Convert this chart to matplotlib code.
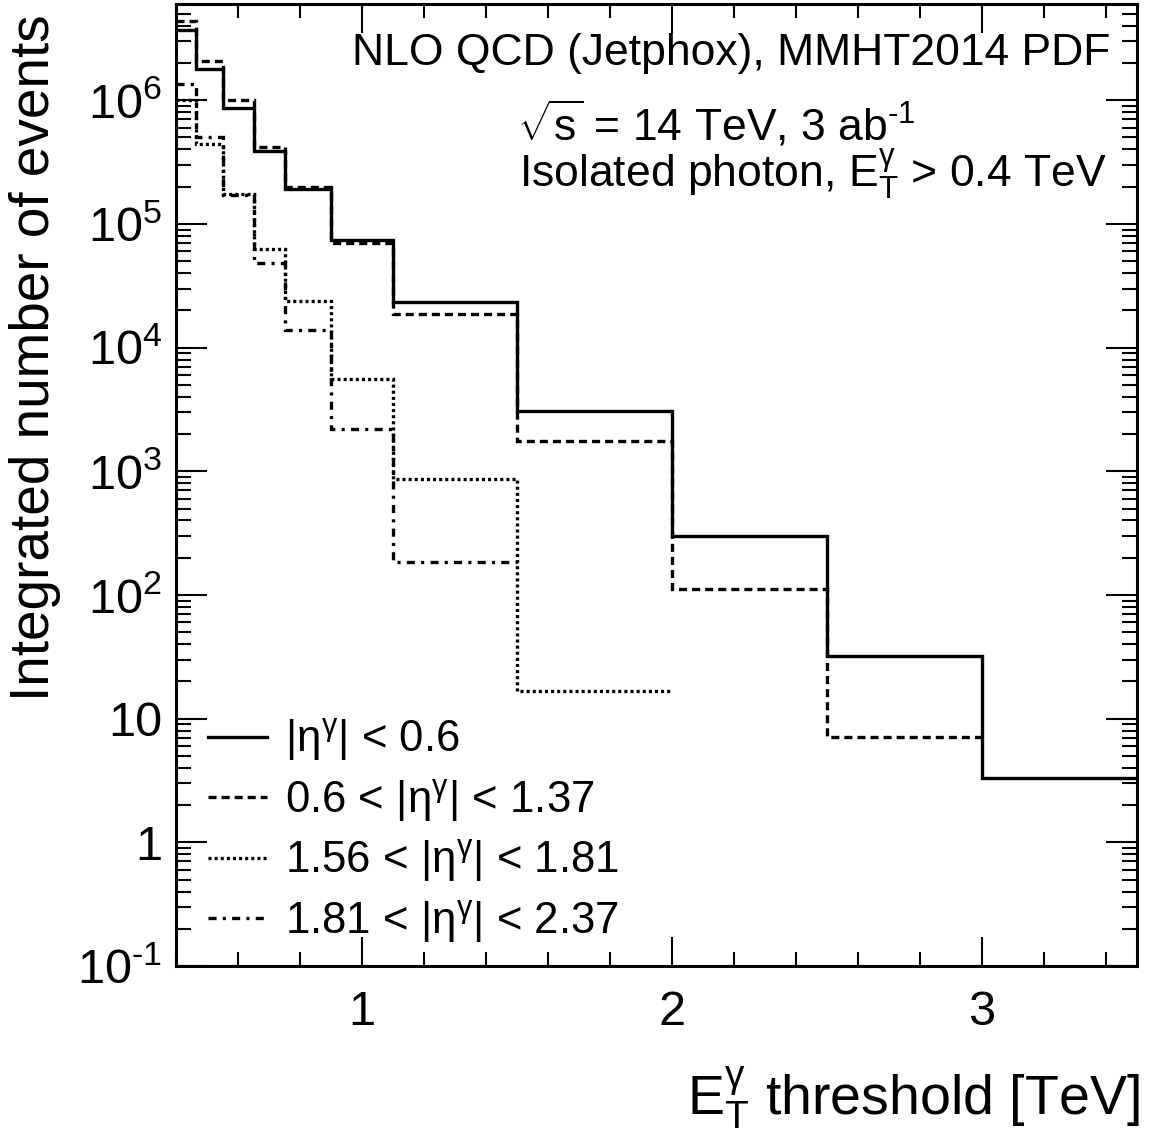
import matplotlib
matplotlib.use("Agg")
import matplotlib.pyplot as plt
import matplotlib.ticker as ticker
import numpy as np

plt.rcParams['font.family'] = ['Liberation Sans', 'DejaVu Sans']
plt.rcParams['mathtext.fontset'] = 'custom'
plt.rcParams['mathtext.rm'] = 'Liberation Sans'
plt.rcParams['mathtext.it'] = 'Liberation Sans:italic'
plt.rcParams['mathtext.bf'] = 'Liberation Sans:bold'
plt.rcParams['lines.scale_dashes'] = False

# E_T threshold bin edges [TeV]
edges = [0.4, 0.465, 0.55, 0.65, 0.75, 0.9, 1.1, 1.5, 2.0, 2.5, 3.0, 3.5]

# Integrated number of events for each eta region (3 ab^-1)
central = [3.7e6, 1.78e6, 8.7e5, 3.9e5, 1.93e5, 7.4e4, 2.35e4, 3.08e3, 302, 32.2, 3.34]
barrel = [4.4e6, 2.09e6, 1.0e6, 4.2e5, 2.0e5, 6.98e4, 1.86e4, 1.77e3, 111, 7.13]
crack = [1.0e6, 4.4e5, 1.75e5, 6.3e4, 2.36e4, 5.59e3, 863, 16.6]
forward = [1.35e6, 5.0e5, 1.7e5, 4.87e4, 1.39e4, 2.19e3, 186]

labels = [r'$|$η$^{\mathrm{γ}}|$ < 0.6',
          r'0.6 < $|$η$^{\mathrm{γ}}|$ < 1.37',
          r'1.56 < $|$η$^{\mathrm{γ}}|$ < 1.81',
          r'1.81 < $|$η$^{\mathrm{γ}}|$ < 2.37']
styles = ['-', (0, (5.8, 3.6)), (0, (2.2, 2.2)), (0, (5.8, 4.5, 2.2, 4.5))]

fig = plt.figure(figsize=(11.53, 11.42), dpi=100)
ax = fig.add_axes([176 / 1153, 1 - 966 / 1142, 961 / 1153, 962 / 1142])

for vals, ls, lab in zip([central, barrel, crack, forward], styles, labels):
    st = ax.stairs(vals, edges[:len(vals) + 1], baseline=None, color='black',
                   linewidth=2.4, linestyle=ls, label=lab)
    st.set_joinstyle('miter')
    st.set_capstyle('butt')

ax.set_yscale('log')
ax.set_xlim(0.4, 3.5)
ax.set_ylim(0.1, 6e6)

# ROOT-like ticks: inward, on all four sides
ax.xaxis.set_major_locator(ticker.FixedLocator([1, 2, 3]))
ax.xaxis.set_minor_locator(ticker.MultipleLocator(0.2))
ax.xaxis.set_major_formatter(ticker.FormatStrFormatter('%d'))
ax.yaxis.set_major_locator(ticker.LogLocator(base=10, numticks=20))
ax.yaxis.set_minor_locator(ticker.LogLocator(base=10, subs=np.arange(2, 10), numticks=20))
ax.yaxis.set_minor_formatter(ticker.NullFormatter())


def pow_label(v, pos):
    e = int(round(np.log10(v)))
    if e == 0:
        return '1'
    if e == 1:
        return '10'
    return r'10$^{\text{%d}}$' % e


ax.yaxis.set_major_formatter(ticker.FuncFormatter(pow_label))
ax.tick_params(which='both', direction='in', top=True, right=True, width=1.5)
ax.tick_params(axis='y', which='major', length=22, labelsize=35, pad=10)
ax.tick_params(axis='y', which='minor', length=11)
ax.tick_params(axis='x', which='major', length=21, labelsize=35, pad=17)
ax.tick_params(axis='x', which='minor', length=10)
for sp in ax.spines.values():
    sp.set_linewidth(2.2)

# Labels
fig.text(1140 / 1153, 1 - 1115 / 1142,
         r'$\mathrm{E}_{\mathrm{T}}^{\mathrm{γ}}$ threshold [TeV]',
         ha='right', va='baseline', fontsize=40)
fig.text(35 / 1153, 1 - 14 / 1142, 'Integrated number of events',
         rotation=90, ha='center', va='top', fontsize=39.5)

ax.text(0.972, 0.9366, 'NLO QCD (Jetphox), MMHT2014 PDF',
        transform=ax.transAxes, ha='right', va='baseline', fontsize=32)
ax.text(0.562, 0.8586, r'$\sqrt{\mathrm{s}}$ = 14 TeV, 3 ab$^{\text{-1}}$',
        transform=ax.transAxes, ha='center', va='baseline', fontsize=32)
ax.text(0.968, 0.8098, r'Isolated photon, $\mathrm{E}_{\mathrm{T}}^{\mathrm{γ}}$ > 0.4 TeV',
        transform=ax.transAxes, ha='right', va='baseline', fontsize=32)

ax.legend(loc='lower left', bbox_to_anchor=(0.033, 0.022), frameon=False,
          fontsize=31.5, handlelength=1.35, handletextpad=0.42, labelspacing=0.31,
          borderpad=0, borderaxespad=0)

fig.savefig('out.png', dpi=100)
